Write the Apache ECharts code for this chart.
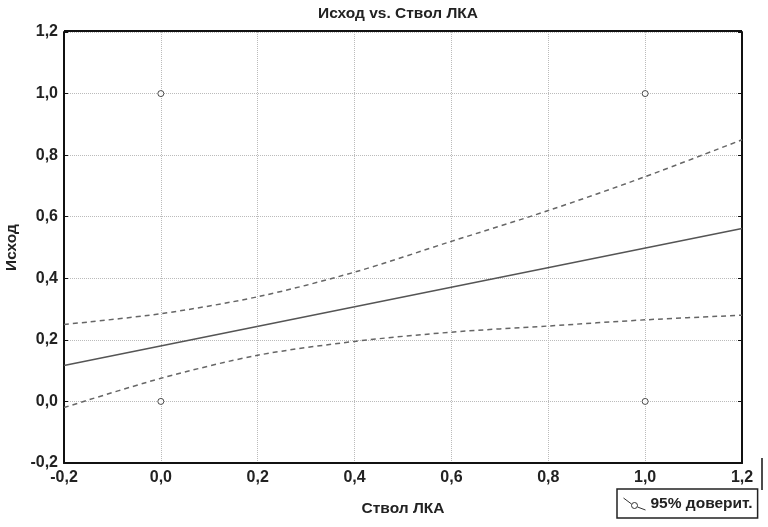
<!DOCTYPE html>
<html><head><meta charset="utf-8">
<script src="https://cdn.jsdelivr.net/npm/echarts@6/dist/echarts.min.js"></script>
<style>html,body{margin:0;padding:0;background:#fff}#c{width:768px;height:527px}</style>
</head><body><div id="c"></div>
<script>
const titleText = 'Исход vs. Ствол ЛКА';
const xName = 'Ствол ЛКА';
const yName = 'Исход';
const legendName = '95% доверит.';
const obsPoints = [[0, 1], [0, 0], [1, 1], [1, 0]];
const fitX = [-0.2, 1.2];
const fitY = [0.117, 0.562];
const ciX = [-0.2, 0, 0.2, 0.4, 0.6, 0.8, 1.0, 1.2];
const ciUpper = [0.25, 0.285, 0.34, 0.42, 0.52, 0.62, 0.73, 0.85];
const ciLower = [-0.02, 0.075, 0.15, 0.195, 0.225, 0.245, 0.265, 0.28];

const font = "'Liberation Sans', Arial, sans-serif";
const txt = { fontFamily: font, fontSize: 15.5, fontWeight: 'bold', color: '#222' };
const tick = { fontFamily: font, fontSize: 16, fontWeight: 'bold', color: '#222' };
const fmt = v => v.toFixed(1).replace('.', ',');
const chart = echarts.init(document.getElementById('c'));
chart.setOption({
  animation: false,
  backgroundColor: '#fff',
  title: { text: titleText, left: 393, top: 1, textAlign: 'center', textStyle: Object.assign({}, txt) },
  grid: { left: 64, right: 26, top: 32, bottom: 64, containLabel: false, outerBoundsMode: 'none' },
  legend: {
    data: [{ name: legendName, icon: 'path://M0,1L8,7M14,10L22,13M11,5.5A3,3,0,1,1,11,11.5A3,3,0,1,1,11,5.5Z' }],
    left: 617, top: 489, itemWidth: 22, itemHeight: 13, itemGap: 4,
    padding: [7, 5, 6, 6], borderColor: '#222', borderWidth: 1.5,
    itemStyle: { color: 'transparent', borderColor: '#333', borderWidth: 1 },
    textStyle: Object.assign({}, txt)
  },
  xAxis: {
    type: 'value', min: -0.2, max: 1.2, interval: 0.2,
    name: xName, nameLocation: 'middle', nameGap: 38,
    nameTextStyle: txt,
    axisLine: { show: true, onZero: false, lineStyle: { color: '#111', width: 2 } },
    axisTick: { show: false },
    axisLabel: Object.assign({ formatter: fmt, margin: 7 }, tick),
    splitLine: { show: true, lineStyle: { color: '#bbb', type: 'dotted', width: 1 } }
  },
  yAxis: [{
    type: 'value', min: -0.2, max: 1.2, interval: 0.2,
    name: yName, nameLocation: 'middle', nameGap: 44, nameRotate: 90,
    nameTextStyle: txt,
    axisLine: { show: true, onZero: false, lineStyle: { color: '#111', width: 2 } },
    axisTick: { show: true, inside: true, length: 4, lineStyle: { color: '#111' } },
    axisLabel: Object.assign({ formatter: fmt, margin: 6 }, tick),
    splitLine: { show: true, lineStyle: { color: '#bbb', type: 'dotted', width: 1 } }
  }, {
    type: 'value', min: -0.2, max: 1.2, interval: 0.2, position: 'right',
    axisLine: { show: true, onZero: false, lineStyle: { color: '#111', width: 2 } },
    axisTick: { show: true, inside: true, length: 4, lineStyle: { color: '#111' } },
    axisLabel: { show: false }, splitLine: { show: false }
  }],
  graphic: [
    { type: 'line', shape: { x1: 64, y1: 31, x2: 742, y2: 31 }, style: { stroke: '#111', lineWidth: 2 } },
    { type: 'line', shape: { x1: 762, y1: 458, x2: 762, y2: 490 }, style: { stroke: '#111', lineWidth: 1.5 } }
  ],
  series: [
    { type: 'scatter', name: 'obs', data: obsPoints, symbol: 'circle', symbolSize: 6,
      itemStyle: { color: '#fff', borderColor: '#222', borderWidth: 1 }, z: 5 },
    { type: 'line', name: 'fit', data: fitX.map((x, i) => [x, fitY[i]]), showSymbol: false,
      lineStyle: { color: '#555', width: 1.5 } },
    { type: 'line', name: legendName, data: ciX.map((x, i) => [x, ciUpper[i]]), showSymbol: false, smooth: 0.3,
      itemStyle: { color: '#555' }, lineStyle: { color: '#666', width: 1.5, type: [5, 4] } },
    { type: 'line', name: legendName, data: ciX.map((x, i) => [x, ciLower[i]]), showSymbol: false, smooth: 0.3,
      itemStyle: { color: '#555' }, lineStyle: { color: '#666', width: 1.5, type: [5, 4] } }
  ]
});
</script></body></html>
